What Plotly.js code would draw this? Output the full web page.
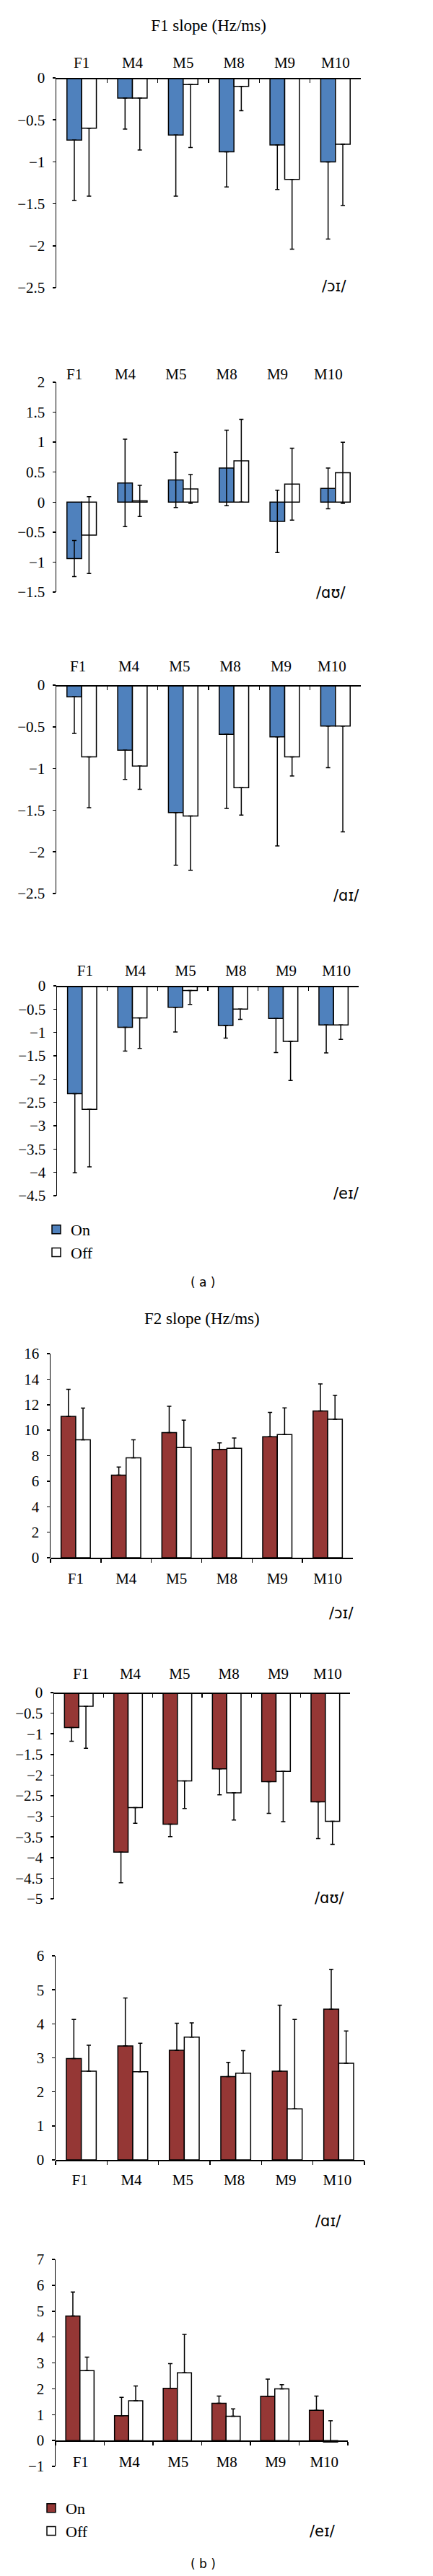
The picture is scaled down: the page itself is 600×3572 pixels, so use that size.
<!DOCTYPE html>
<html><head><meta charset="utf-8">
<script src="https://cdn.plot.ly/plotly-3.0.1.min.js"></script>
<style>body{margin:0;background:#fff}</style>
</head><body><div id="chart" style="width:600px;height:3572px"></div>
<script>
const categories = ['F1','M4','M5','M8','M9','M10'];
const seriesNames = ['On','Off'];
// F1 slope /ɔɪ/
const f1OiOn = [-0.74,-0.24,-0.68,-0.88,-0.80,-1.00];
const f1OiOnErr = [0.72,0.37,0.73,0.42,0.53,0.92];
const f1OiOff = [-0.60,-0.24,-0.08,-0.10,-1.21,-0.79];
const f1OiOffErr = [0.81,0.62,0.75,0.29,0.83,0.73];
// F1 slope /ɑʊ/
const f1AuOn = [-0.94,0.32,0.37,0.57,-0.32,0.23];
const f1AuOnErr = [0.30,0.73,0.46,0.63,0.52,0.34];
const f1AuOff = [-0.55,0.02,0.22,0.69,0.30,0.49];
const f1AuOffErr = [0.64,0.26,0.24,0.69,0.60,0.51];
// F1 slope /ɑɪ/
const f1AiOn = [-0.14,-0.78,-1.53,-0.59,-0.62,-0.49];
const f1AiOnErr = [0.44,0.35,0.63,0.89,1.31,0.50];
const f1AiOff = [-0.86,-0.97,-1.57,-1.23,-0.86,-0.49];
const f1AiOffErr = [0.61,0.28,0.65,0.33,0.23,1.27];
// F1 slope /eɪ/
const f1EiOn = [-2.31,-0.89,-0.46,-0.85,-0.70,-0.84];
const f1EiOnErr = [1.70,0.51,0.53,0.27,0.73,0.60];
const f1EiOff = [-2.65,-0.69,-0.10,-0.50,-1.19,-0.84];
const f1EiOffErr = [1.23,0.65,0.30,0.22,0.84,0.31];
// F2 slope /ɔɪ/
const f2OiOn = [11.08,6.47,9.81,8.49,9.49,11.51];
const f2OiOnErr = [2.12,0.64,2.06,0.51,1.90,2.11];
const f2OiOff = [9.24,7.83,8.64,8.58,9.66,10.85];
const f2OiOffErr = [2.49,1.41,2.15,0.81,2.09,1.88];
// F2 slope /ɑʊ/
const f2AuOn = [-0.85,-3.87,-3.19,-1.85,-2.16,-2.65];
const f2AuOnErr = [0.33,0.74,0.30,0.63,0.77,0.89];
const f2AuOff = [-0.33,-2.79,-2.14,-2.43,-1.91,-3.12];
const f2AuOffErr = [1.02,0.38,0.67,0.66,1.22,0.56];
// F2 slope /ɑɪ/
const f2AiOn = [2.98,3.35,3.22,2.45,2.61,4.43];
const f2AiOnErr = [1.15,1.41,0.80,0.42,1.94,1.17];
const f2AiOff = [2.61,2.59,3.61,2.55,1.50,2.84];
const f2AiOffErr = [0.76,0.84,0.42,0.66,2.63,0.95];
// F2 slope /eɪ/
const f2EiOn = [4.81,0.96,2.02,1.44,1.71,1.17];
const f2EiOnErr = [0.93,0.71,0.95,0.28,0.66,0.55];
const f2EiOff = [2.70,1.54,2.62,0.94,2.00,-0.06];
const f2EiOffErr = [0.52,0.57,1.48,0.28,0.16,0.82];

const W = 600, H = 3572;
const SERIF = '"Liberation Serif", "Times New Roman", serif';
const SANS = '"DejaVu Sans", sans-serif';
const BLUE = '#4f81bd', RED = '#953735';

const panels = [
  {on:f1OiOn, onErr:f1OiOnErr, off:f1OiOff, offErr:f1OiOffErr, vowel:'/ɔɪ/', color:BLUE, dir:'down',
   box:[78,108,500,399], yr:[-2.5,0], dt:0.5, side:'top', labelAt:'zero', standoff:6, shift:0, vpos:[463,397]},
  {on:f1AuOn, onErr:f1AuOnErr, off:f1AuOff, offErr:f1AuOffErr, vowel:'/ɑʊ/', color:BLUE, dir:'both',
   box:[78,530,500,821], yr:[-1.5,2], dt:0.5, side:'top', labelAt:'top', standoff:0, shift:-10, vpos:[458,822]},
  {on:f1AiOn, onErr:f1AiOnErr, off:f1AiOff, offErr:f1AiOffErr, vowel:'/ɑɪ/', color:BLUE, dir:'down',
   box:[78,950,500,1239], yr:[-2.5,0], dt:0.5, side:'top', labelAt:'zero', standoff:11, shift:-5, vpos:[480,1242]},
  {on:f1EiOn, onErr:f1EiOnErr, off:f1EiOff, offErr:f1EiOffErr, vowel:'/eɪ/', color:BLUE, dir:'down',
   box:[79,1367,497,1658], yr:[-4.5,0], dt:0.5, side:'top', labelAt:'zero', standoff:6, shift:4, vpos:[480,1655], legend:'legend'},
  {on:f2OiOn, onErr:f2OiOnErr, off:f2OiOff, offErr:f2OiOffErr, vowel:'/ɔɪ/', color:RED, dir:'up',
   box:[70,1877,489,2160], yr:[0,16], dt:2, side:'bottom', labelAt:'zero', standoff:9, shift:0, vpos:[473,2237]},
  {on:f2AuOn, onErr:f2AuOnErr, off:f2AuOff, offErr:f2AuOffErr, vowel:'/ɑʊ/', color:RED, dir:'down',
   box:[75,2347,485,2633], yr:[-5,0], dt:0.5, side:'top', labelAt:'zero', standoff:11, shift:3, vpos:[456,2632]},
  {on:f2AiOn, onErr:f2AiOnErr, off:f2AiOff, offErr:f2AiOffErr, vowel:'/ɑɪ/', color:RED, dir:'up',
   box:[77,2712,505,2995], yr:[0,6], dt:1, side:'bottom', labelAt:'zero', standoff:8, shift:-2, vpos:[455,3080]},
  {on:f2EiOn, onErr:f2EiOnErr, off:f2EiOff, offErr:f2EiOffErr, vowel:'/eɪ/', color:RED, dir:'up',
   box:[77,3133,482,3420], yr:[-1,7], dt:1, side:'bottom', labelAt:'zero', standoff:10, shift:1, vpos:[447,3510], legend:'legend2'}
];

function errSpec(err, dir){
  const zeros = err.map(()=>0);
  const e = {type:'data', symmetric:false, color:'#000', thickness:1.5, width:3};
  if(dir==='both'){ e.array = err; e.arrayminus = err; }
  else if(dir==='up'){ e.array = err; e.arrayminus = zeros; }
  else { e.array = zeros; e.arrayminus = err; }
  return e;
}

const data = [];
const layout = {
  width:W, height:H, margin:{l:0,r:0,t:0,b:0},
  paper_bgcolor:'#fff', plot_bgcolor:'rgba(0,0,0,0)',
  barmode:'group', bargap:0.42, bargroupgap:0,
  showlegend:true,
  title:{text:'F1 slope (Hz/ms)', font:{family:SERIF, size:23, color:'#000'},
    xref:'container', yref:'container', x:289/W, xanchor:'center', y:1-35/H, yanchor:'middle'},
  legend:{x:58/W, y:1-1684/H, xanchor:'left', yanchor:'top', bgcolor:'rgba(0,0,0,0)',
    font:{family:SERIF, size:22, color:'#000'}, traceorder:'normal'},
  legend2:{x:51/W, y:1-3457/H, xanchor:'left', yanchor:'top', bgcolor:'rgba(0,0,0,0)',
    font:{family:SERIF, size:22, color:'#000'}, traceorder:'normal'},
  annotations:[],
  font:{family:SERIF, color:'#000'}
};

const boundaries = categories.map((c,i)=>i-0.5).concat([categories.length-0.5]);

panels.forEach((p,idx)=>{
  const n = idx+1;
  const [l,t,r,b] = p.box;
  const yd = [1-b/H, 1-t/H];
  const zeroPos = yd[0] + (0-p.yr[0])/(p.yr[1]-p.yr[0])*(yd[1]-yd[0]);
  const series = [[p.on,p.onErr,p.color],[p.off,p.offErr,'#ffffff']];
  series.forEach((s,k)=>{
    const tr = {type:'bar', x:categories, y:s[0], name:seriesNames[k],
      xaxis:'x'+n, yaxis:'y'+n, hoverinfo:'skip',
      marker:{color:s[2], line:{color:'#000', width:1.5}},
      error_y:errSpec(s[1], p.dir),
      showlegend: !!p.legend};
    if(p.legend) tr.legend = p.legend;
    data.push(tr);
  });
  const atZero = p.labelAt==='zero';
  layout['xaxis'+n] = {
    domain:[l/W, r/W], anchor:'free', position: atZero ? zeroPos : yd[1], side:p.side,
    type:'category', categoryorder:'array', categoryarray:categories, range:[-0.5,5.5],
    tickson:'boundaries', ticks: atZero ? (p.side==='top' ? 'inside' : 'outside') : '',
    ticklen:5, tickwidth:1.5, tickcolor:'#000',
    showline:atZero, linecolor:'#000', linewidth:1.5, showgrid:false, zeroline:false,
    tickfont:{family:SERIF, size:21, color:'#000'},
    ticklabelstandoff:p.standoff, ticklabelshift:p.shift, fixedrange:true
  };
  layout['yaxis'+n] = {
    domain:yd, anchor:'x'+n, range:p.yr, dtick:p.dt, tick0:0,
    ticks:'outside', ticklen:4, tickwidth:1.5, tickcolor:'#000',
    showline:true, linecolor:'#000', linewidth:1.5, showgrid:false, zeroline:false,
    tickfont:{family:SERIF, size:21, color:'#000'}, ticklabelstandoff:6, fixedrange:true
  };
  if(!atZero){
    layout['xaxis9'] = {
      overlaying:'x'+n, anchor:'free', position:zeroPos, side:'top',
      range:[-0.5,5.5], tickmode:'array', tickvals:boundaries, showticklabels:false,
      ticks:'inside', ticklen:5, tickwidth:1.5, tickcolor:'#000',
      showline:true, linecolor:'#000', linewidth:1.5, showgrid:false, zeroline:false, fixedrange:true
    };
  }
  layout.annotations.push({text:p.vowel, xref:'paper', yref:'paper', x:p.vpos[0]/W, y:1-p.vpos[1]/H,
    xanchor:'center', yanchor:'middle', showarrow:false, font:{family:SANS, size:21, color:'#000'}});
});

layout.annotations.push({text:'F2 slope (Hz/ms)', xref:'paper', yref:'paper', x:280/W, y:1-1828/H,
  xanchor:'center', yanchor:'middle', showarrow:false, font:{family:SERIF, size:23, color:'#000'}});
layout.annotations.push({text:'( a )', xref:'paper', yref:'paper', x:281/W, y:1-1778/H,
  xanchor:'center', yanchor:'middle', showarrow:false, font:{family:SANS, size:17, color:'#000'}});
layout.annotations.push({text:'( b )', xref:'paper', yref:'paper', x:281/W, y:1-3555/H,
  xanchor:'center', yanchor:'middle', showarrow:false, font:{family:SANS, size:17, color:'#000'}});

Plotly.newPlot('chart', data, layout, {staticPlot:true, displayModeBar:false});
</script></body></html>
